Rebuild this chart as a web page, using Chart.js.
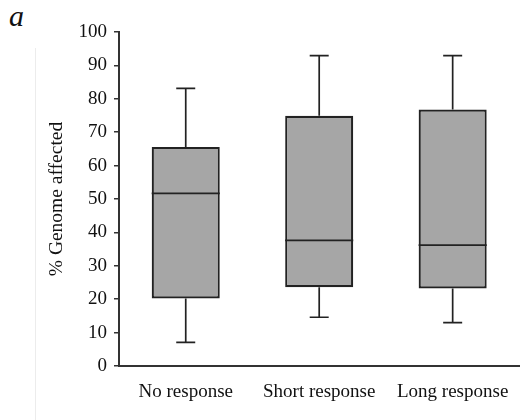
<!DOCTYPE html>
<html>
<head>
<meta charset="utf-8">
<script src="https://cdn.jsdelivr.net/npm/chart.js@4"></script>
<style>
  html, body { margin: 0; padding: 0; background: #fff; }
  #wrap { position: relative; width: 524px; height: 420px; }
  #panel { position: absolute; left: 9px; top: -1px; font: italic 30px "Liberation Serif", serif; color: #111; }
  #edge { position: absolute; left: 35px; top: 48px; width: 1px; height: 372px; background: #ececec; }
  canvas { position: absolute; left: 0; top: 0; }
</style>
</head>
<body>
<div id="wrap">
  <div id="edge"></div>
  <div id="panel">a</div>
  <canvas id="boxChart" width="524" height="420"></canvas>
</div>
<script>
// ------------------ DATA ------------------
const groups = ["No response", "Short response", "Long response"];
const whiskerLow = [7.1, 14.6, 13.0];
const quartileLow = [20.2, 23.6, 23.2];
const medians = [51.7, 37.6, 36.2];
const quartileHigh = [65.6, 74.9, 76.8];
const whiskerHigh = [83.1, 92.9, 92.9];
const yTicks = [0, 10, 20, 30, 40, 50, 60, 70, 80, 90, 100];

const ink = "#222";
const serif = "'Liberation Serif', 'Times New Roman', serif";

// ------------------ WHISKERS + MEDIAN ------------------
const boxExtras = {
  id: "boxExtras",
  afterDatasetsDraw(chart) {
    const { ctx, scales: { x, y } } = chart;
    const bars = chart.getDatasetMeta(0).data;
    ctx.save();
    ctx.strokeStyle = ink;
    groups.forEach((g, i) => {
      const xc = x.getPixelForValue(i);
      const half = bars[i].width / 2;
      const cap = 9.5;

      ctx.lineWidth = 1.7;
      ctx.beginPath();
      ctx.moveTo(xc, y.getPixelForValue(quartileHigh[i]));
      ctx.lineTo(xc, y.getPixelForValue(whiskerHigh[i]));
      ctx.moveTo(xc - cap, y.getPixelForValue(whiskerHigh[i]));
      ctx.lineTo(xc + cap, y.getPixelForValue(whiskerHigh[i]));
      ctx.moveTo(xc, y.getPixelForValue(quartileLow[i]));
      ctx.lineTo(xc, y.getPixelForValue(whiskerLow[i]));
      ctx.moveTo(xc - cap, y.getPixelForValue(whiskerLow[i]));
      ctx.lineTo(xc + cap, y.getPixelForValue(whiskerLow[i]));
      ctx.stroke();

      ctx.lineWidth = 1.8;
      ctx.beginPath();
      ctx.moveTo(xc - half, y.getPixelForValue(medians[i]));
      ctx.lineTo(xc + half, y.getPixelForValue(medians[i]));
      ctx.stroke();
    });
    ctx.restore();
  }
};

// ------------------ CHART ------------------
const ctx = document.getElementById("boxChart").getContext("2d");
new Chart(ctx, {
  type: "bar",
  data: {
    labels: groups,
    datasets: [{
      data: groups.map((g, i) => [quartileLow[i], quartileHigh[i]]),
      backgroundColor: "#a6a6a6",
      borderColor: ink,
      borderWidth: 2.2,
      borderSkipped: false,
      barPercentage: 0.51,
      categoryPercentage: 1
    }]
  },
  options: {
    responsive: false,
    animation: false,
    layout: { padding: { top: 32, right: 4, left: 45, bottom: 0 } },
    plugins: { legend: { display: false }, tooltip: { enabled: false } },
    scales: {
      x: {
        grid: { display: false, drawTicks: false },
        border: { display: true, color: "#333", width: 2 },
        ticks: { color: "#111", padding: 15, font: { family: serif, size: 19 } },
        afterFit: s => { s.height = 54; }
      },
      y: {
        min: 0,
        max: 100,
        afterBuildTicks: s => { s.ticks = yTicks.map(v => ({ value: v })); },
        grid: { display: true, drawOnChartArea: false, drawTicks: true, tickLength: 5, color: "#333", lineWidth: 1.5 },
        border: { display: true, color: "#333", width: 2 },
        ticks: { color: "#111", padding: 7, font: { family: serif, size: 19 } },
        title: {
          display: true,
          text: "% Genome affected",
          color: "#111",
          padding: 0,
          font: { family: serif, size: 19.5 }
        },
        afterFit: s => { s.width = 74; }
      }
    }
  },
  plugins: [boxExtras]
});
</script>
</body>
</html>
